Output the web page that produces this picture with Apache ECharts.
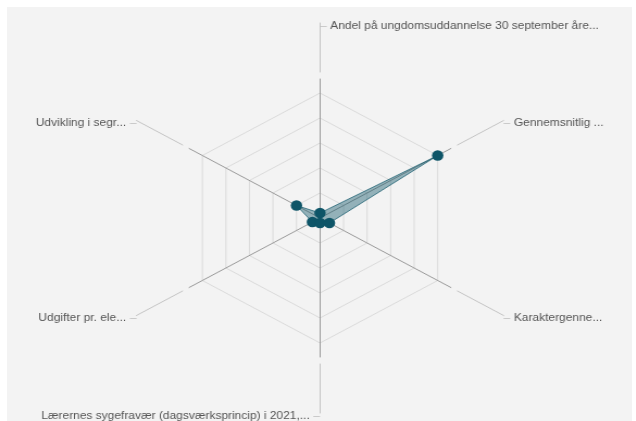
<!DOCTYPE html>
<html><head><meta charset="utf-8">
<script src="https://cdn.jsdelivr.net/npm/echarts@6/dist/echarts.min.js"></script>
<style>
html,body{margin:0;padding:0;background:#fff;width:636px;height:421px;overflow:hidden;}
#panel{position:absolute;left:7px;top:7px;width:625px;height:414px;background:#f3f3f3;}
#chart{position:absolute;left:0;top:0;width:585px;height:421px;transform:scaleX(1.087);transform-origin:0 0;}
</style></head><body>
<div id="panel"></div><div id="chart"></div>
<script>
// Indicators in ECharts radar order (counter-clockwise starting at the top)
const indicatorNames = [
  'Andel på ungdomsuddannelse 30 september åre...',
  'Udvikling i segr...',
  'Udgifter pr. ele...',
  'Lærernes sygefravær (dagsværksprincip) i 2021,...',
  'Karaktergenne...',
  'Gennemsnitlig ...'
];
const indicatorMin = [0, 0, 0, 0, 0, 0];
const indicatorMax = [1, 1, 1, 1, 1, 1];
const seriesValues = [0.04, 0.2, 0.065, 0.04, 0.08, 1.0];
const rightSideNames = ['Andel på ungdomsuddannelse 30 september åre...', 'Karaktergenne...', 'Gennemsnitlig ...'];

const indicators = indicatorNames.map((n, i) => ({ name: n, min: indicatorMin[i], max: indicatorMax[i] }));
const CENTER = [294.4, 218];
const FONT = 'Liberation Sans, Arial, sans-serif';
const rich = {
  n: { color: '#555', fontSize: 11, fontFamily: FONT },
  c: { color: '#bdbdbd', fontSize: 11, fontFamily: FONT }
};
const off = { show: false };

const chart = echarts.init(document.getElementById('chart'), null, { renderer: 'canvas' });
chart.setOption({
  backgroundColor: 'transparent',
  animation: false,
  radar: [
    { // grid rings + data
      center: CENTER, radius: 125, splitNumber: 5, shape: 'polygon',
      indicator: indicators,
      axisName: off, axisLine: off, splitArea: off,
      splitLine: { lineStyle: { color: '#dadada', width: 1 } }
    },
    { // solid spokes
      center: CENTER, radius: 139, splitNumber: 5, shape: 'polygon',
      indicator: indicators,
      axisName: off, splitLine: off, splitArea: off,
      axisLine: { lineStyle: { color: '#9a9a9a', width: 1 } }
    },
    { // leader lines + right-side labels
      center: CENTER, radius: 195, splitNumber: 5, shape: 'polygon',
      indicator: indicators, nameGap: 0,
      splitLine: off, splitArea: off,
      axisLine: { lineStyle: { color: '#c4c4c4', width: 1, type: [49, 2000], dashOffset: 1903 } },
      axisName: {
        show: true, align: 'left', verticalAlign: 'middle', padding: [5, 0, 0, 0], rich: rich,
        formatter: (name) => rightSideNames.includes(name) ? '{c|–} {n|' + name + '}' : ''
      }
    },
    { // left-side labels
      center: CENTER, radius: 195, splitNumber: 5, shape: 'polygon',
      indicator: indicators, nameGap: 0,
      splitLine: off, splitArea: off, axisLine: off,
      axisName: {
        show: true, align: 'right', verticalAlign: 'middle', padding: [5, 0, 0, 0], rich: rich,
        formatter: (name) => rightSideNames.includes(name) ? '' : '{n|' + name + '} {c|–}'
      }
    }
  ],
  series: [{
    type: 'radar',
    radarIndex: 0,
    symbol: 'circle',
    symbolSize: 10.5,
    itemStyle: { color: '#0e5568' },
    lineStyle: { color: '#0e5568', width: 1, opacity: 0.7 },
    areaStyle: { color: '#0e5568', opacity: 0.42 },
    data: [{ value: seriesValues, name: 'Værdi' }]
  }]
});
</script>
</body></html>
